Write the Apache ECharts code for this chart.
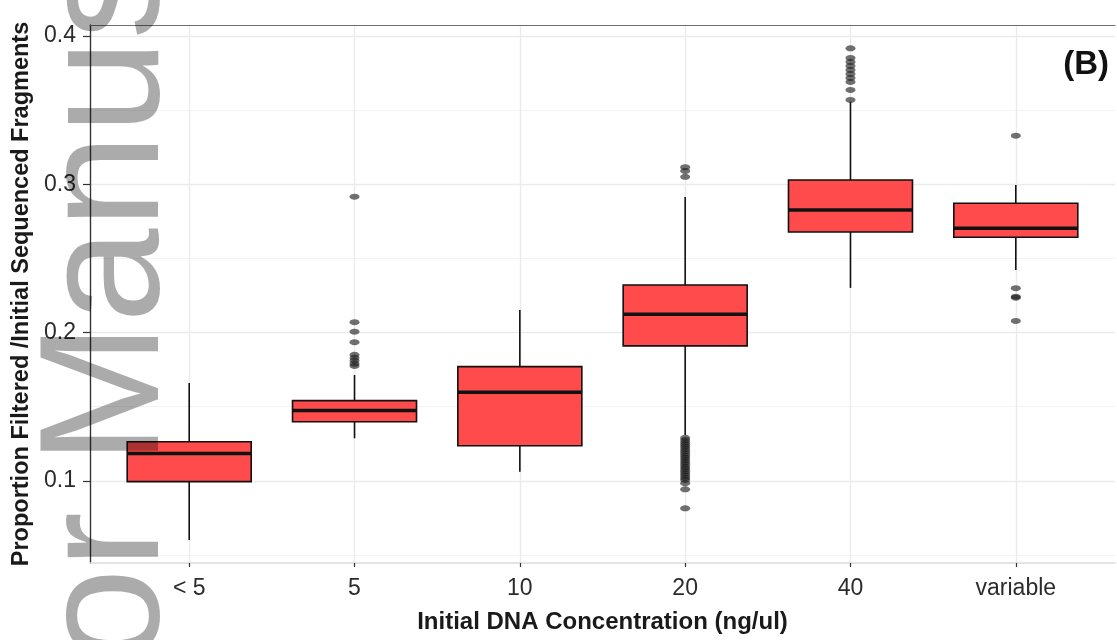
<!DOCTYPE html>
<html>
<head>
<meta charset="utf-8">
<script src="https://cdn.jsdelivr.net/npm/echarts@6/dist/echarts.min.js"></script>
<style>
  html, body { margin: 0; padding: 0; background: #ffffff; }
  #chart { width: 1117px; height: 640px; }
</style>
</head>
<body>
<div id="chart"></div>
<script>
// Categories on the x axis
const categories = ['< 5', '5', '10', '20', '40', 'variable'];

// Box statistics per category
const whiskerLow  = [0.0601, 0.1287, 0.1062, 0.1310, 0.2301, 0.2422];
const q1          = [0.0995, 0.1399, 0.1237, 0.1910, 0.2678, 0.2643];
const median      = [0.1184, 0.1474, 0.1597, 0.2123, 0.2827, 0.2703];
const q3          = [0.1264, 0.1541, 0.1770, 0.2321, 0.3029, 0.2872];
const whiskerHigh = [0.1660, 0.1714, 0.2152, 0.2914, 0.3557, 0.2995];

// Outlying points per category
const outliersLt5 = [];
const outliers5 = [0.2916, 0.2070, 0.2006, 0.1935, 0.1850, 0.1830, 0.1810, 0.1790, 0.1775];
const outliers10 = [];
const outliers20 = [0.3115, 0.3090, 0.3050,
  0.1290, 0.1275, 0.1260, 0.1245, 0.1230, 0.1215, 0.1200, 0.1185, 0.1170, 0.1155,
  0.1140, 0.1125, 0.1110, 0.1095, 0.1080, 0.1065, 0.1050, 0.1035, 0.1020, 0.1006,
  0.0984, 0.0943, 0.0815];
const outliers40 = [0.3917, 0.3852, 0.3825, 0.3798, 0.3771, 0.3744, 0.3717, 0.3690, 0.3636, 0.3569];
const outliersVariable = [0.3328, 0.2299, 0.2242, 0.2235, 0.2078];

// Y axis
const yTicks = [0.1, 0.2, 0.3, 0.4];
const yMin = 0.0446;
const yMax = 0.4074;

const outlierGroups = [outliersLt5, outliers5, outliers10, outliers20, outliers40, outliersVariable];
const outlierData = [];
outlierGroups.forEach((vals, i) => vals.forEach(v => outlierData.push([i, v])));

const boxData = categories.map((c, i) => [i, whiskerLow[i], q1[i], median[i], q3[i], whiskerHigh[i]]);

const FONT = "'Liberation Sans', Arial, sans-serif";
const INK = '#111111';

const chart = echarts.init(document.getElementById('chart'), null, { renderer: 'canvas' });

chart.setOption({
  animation: false,
  backgroundColor: '#ffffff',
  grid: [
    // full panel: frame, horizontal grid lines, y labels
    { left: 90, right: 2, top: 25, bottom: 77, containLabel: false },
    // category positions with ggplot-style padding of 0.6 units per side
    { left: 189.2, right: 101.2, top: 25, bottom: 77, containLabel: false }
  ],
  xAxis: [
    {
      gridIndex: 0, type: 'value', position: 'bottom', min: 0, max: 1,
      axisLine: { show: true, lineStyle: { color: '#dcdcdc', width: 1.5 } },
      axisTick: { show: false }, axisLabel: { show: false }, splitLine: { show: false },
      name: 'Initial DNA Concentration (ng/ul)', nameLocation: 'middle', nameGap: 47,
      nameTextStyle: { fontFamily: FONT, fontWeight: 'bold', fontSize: 24, color: '#1a1a1a' }
    },
    {
      gridIndex: 0, type: 'value', position: 'top', min: 0, max: 1,
      axisLine: { show: true, lineStyle: { color: '#707070', width: 1.2 } },
      axisTick: { show: false }, axisLabel: { show: false }, splitLine: { show: false }
    },
    {
      gridIndex: 1, type: 'category', data: categories, boundaryGap: false,
      axisLine: { show: false },
      axisTick: { show: true, length: 4, lineStyle: { color: '#333', width: 1.2 } },
      axisLabel: { fontFamily: FONT, fontSize: 23, color: '#2b2b2b', margin: 14 },
      splitLine: { show: true, lineStyle: { color: '#ebebeb', width: 1.4 } }
    }
  ],
  yAxis: [
    {
      gridIndex: 0, type: 'value', min: yMin, max: yMax, position: 'left',
      axisLine: { show: true, lineStyle: { color: '#333333', width: 1.2 } },
      axisTick: { show: true, length: 7, customValues: yTicks, lineStyle: { color: '#333', width: 1.2 } },
      axisLabel: { fontFamily: FONT, fontSize: 23, color: '#2b2b2b', margin: 14,
                   customValues: yTicks, formatter: v => v.toFixed(1) },
      splitLine: { show: true, lineStyle: { color: '#ebebeb', width: 1.4 } },
      minorTick: { show: false, splitNumber: 2 },
      minorSplitLine: { show: true, lineStyle: { color: '#f3f3f3', width: 1 } },
      name: 'Proportion Filtered /Initial Sequenced Fragments', nameLocation: 'middle', nameGap: 56,
      nameRotate: 90,
      nameTextStyle: { fontFamily: FONT, fontWeight: 'bold', fontSize: 23.5, color: '#1a1a1a' }
    },
    {
      gridIndex: 0, type: 'value', min: yMin, max: yMax, position: 'right',
      axisLine: { show: true, lineStyle: { color: '#333333', width: 1.2 } },
      axisTick: { show: false }, axisLabel: { show: false }, splitLine: { show: false }
    },
    {
      gridIndex: 1, type: 'value', min: yMin, max: yMax,
      axisLine: { show: false }, axisTick: { show: false }, axisLabel: { show: false },
      splitLine: { show: false }
    }
  ],
  series: [
    {
      type: 'custom',
      xAxisIndex: 2, yAxisIndex: 2,
      data: boxData,
      encode: { x: 0, y: [1, 2, 3, 4, 5] },
      z: 3,
      renderItem: function (params, api) {
        const i = api.value(0);
        const pLow = api.coord([i, api.value(1)]);
        const pQ1 = api.coord([i, api.value(2)]);
        const pMed = api.coord([i, api.value(3)]);
        const pQ3 = api.coord([i, api.value(4)]);
        const pHigh = api.coord([i, api.value(5)]);
        const w = api.size([1, 0])[0] * 0.75;
        const x = pQ1[0];
        return {
          type: 'group',
          children: [
            { type: 'line', shape: { x1: x, y1: pHigh[1], x2: x, y2: pQ3[1] },
              style: { stroke: INK, lineWidth: 1.6 } },
            { type: 'line', shape: { x1: x, y1: pQ1[1], x2: x, y2: pLow[1] },
              style: { stroke: INK, lineWidth: 1.6 } },
            { type: 'rect', shape: { x: x - w / 2, y: pQ3[1], width: w, height: pQ1[1] - pQ3[1] },
              style: { fill: '#ff4b4b', stroke: INK, lineWidth: 1.6 } },
            { type: 'line', shape: { x1: x - w / 2, y1: pMed[1], x2: x + w / 2, y2: pMed[1] },
              style: { stroke: INK, lineWidth: 3.5 } }
          ]
        };
      }
    },
    {
      type: 'scatter',
      xAxisIndex: 2, yAxisIndex: 2,
      data: outlierData,
      symbol: 'circle',
      symbolSize: [10, 6],
      itemStyle: { color: 'rgba(25,25,25,0.78)' },
      z: 4
    }
  ],
  graphic: [
    {
      type: 'text', right: 8, top: 48, z: 10,
      style: { text: '(B)', fontFamily: FONT, fontWeight: 'bold', fontSize: 33, fill: '#111' }
    },
    {
      type: 'text', x: 111, y: 323, rotation: Math.PI / 2, z: 100, silent: true,
      style: {
        text: 'Author Manuscript', fontFamily: FONT, fontSize: 170,
        fill: 'rgba(0,0,0,0.33)', align: 'center', verticalAlign: 'middle'
      }
    }
  ]
});
</script>
</body>
</html>
